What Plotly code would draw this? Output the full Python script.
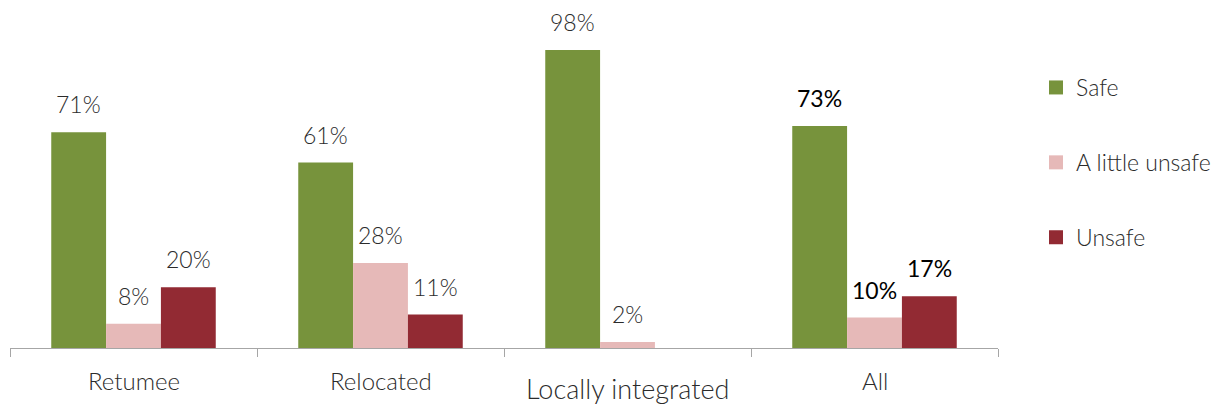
import plotly.graph_objects as go

categories = ["Retumee", "Relocated", "Locally integrated", "All"]
series_names = ["Safe", "A little unsafe", "Unsafe"]
safe = [71, 61, 98, 73]
little_unsafe = [8, 28, 2, 10]
unsafe = [20, 11, 0, 17]

colors = ["#77933C", "#E6B9B8", "#922A33"]
values = [safe, little_unsafe, unsafe]

FONT = "Lato"
GREY_TXT = "#2B2B2B"
BAR_W = 0.222
offsets = [-1.5 * BAR_W, -0.5 * BAR_W, 0.5 * BAR_W]
xpos = list(range(len(categories)))

fig = go.Figure()
annotations = []
for name, vals, col, off in zip(series_names, values, colors, offsets):
    fig.add_trace(go.Bar(
        x=xpos, y=vals, name=name, width=BAR_W, offset=off,
        marker=dict(color=col, line=dict(width=0)),
        showlegend=False,
    ))
    # legend entry with a larger square swatch
    fig.add_trace(go.Scatter(
        x=[None], y=[None], mode="markers", name=name, legendgroup=name,
        marker=dict(symbol="square", size=14, color=col, line=dict(width=0)),
    ))
    for xi, v in zip(xpos, vals):
        if v <= 0:
            continue
        is_total = categories[xi] == "All"
        annotations.append(dict(
            x=xi + off + BAR_W / 2, y=v, xref="x", yref="y",
            text=f"{v}%", showarrow=False, yanchor="middle", yshift=28,
            font=dict(family=FONT, size=23,
                      color="#000000" if is_total else GREY_TXT,
                      weight=400 if is_total else 300),
        ))

# category labels under the axis
for xi, c in zip(xpos, categories):
    big = c == "Locally integrated"
    annotations.append(dict(
        x=xi, y=0, xref="x", yref="y", text=c, showarrow=False,
        yanchor="middle", yshift=-40 if big else -32,
        font=dict(family=FONT, size=27 if big else 24, color=GREY_TXT, weight=300),
    ))

fig.update_layout(
    width=1220, height=407,
    margin=dict(l=10, r=222, t=20, b=59),
    paper_bgcolor="white", plot_bgcolor="white",
    barmode="overlay",
    font=dict(family=FONT, size=20, color=GREY_TXT, weight=300),
    xaxis=dict(
        range=[-0.5, 3.5], tickvals=xpos, showticklabels=False,
        ticks="", showline=True, linecolor="#A6A6A6", linewidth=1,
        showgrid=False, zeroline=False, automargin=False,
        minor=dict(tickvals=[-0.5, 0.5, 1.5, 2.5, 3.5], ticks="outside",
                   ticklen=8, tickcolor="#A6A6A6", tickwidth=1, showgrid=False),
    ),
    yaxis=dict(range=[0, 107.9], visible=False, showgrid=False,
               zeroline=False, automargin=False),
    legend=dict(
        x=1036 / 1220, xref="container", xanchor="left",
        y=1 - 66 / 407, yref="container", yanchor="top",
        font=dict(family=FONT, size=23, color=GREY_TXT, weight=300),
        tracegroupgap=42, itemwidth=30, traceorder="grouped",
    ),
    annotations=annotations,
    showlegend=True,
)

fig.write_html("out.html")
